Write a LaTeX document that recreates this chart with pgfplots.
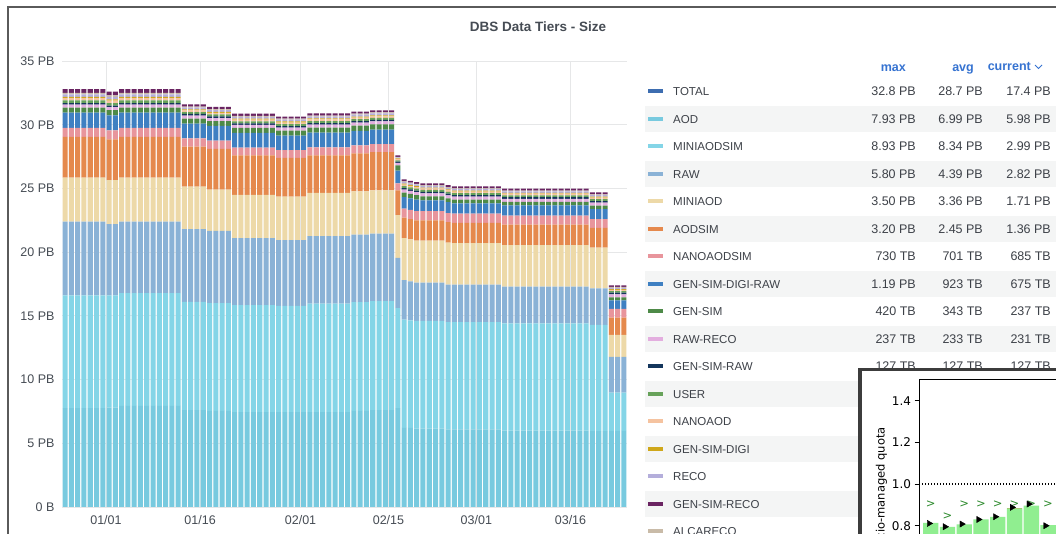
\documentclass[border=0pt]{standalone}
\usepackage{fontspec}
\setmainfont{Liberation Sans}
\newfontfamily\djv{DejaVu Sans}
\usepackage{pgfplots}
\pgfplotsset{compat=1.18}
\usepackage{pgfplotstable}

\definecolor{cAOD}{HTML}{78CADF}
\definecolor{cMSIM}{HTML}{84D5E7}
\definecolor{cRAW}{HTML}{8AB2D6}
\definecolor{cMINI}{HTML}{EDD9A8}
\definecolor{cAODSIM}{HTML}{E5894D}
\definecolor{cNSIM}{HTML}{E8959C}
\definecolor{cGDR}{HTML}{3F80C2}
\definecolor{cGS}{HTML}{4E8A48}
\definecolor{cRR}{HTML}{E3AEDF}
\definecolor{cGSR}{HTML}{14365C}
\definecolor{cUSER}{HTML}{67A25A}
\definecolor{cNANO}{HTML}{F5C3A0}
\definecolor{cGSD}{HTML}{CFA71A}
\definecolor{cRECO}{HTML}{B4AEDB}
\definecolor{cALCA}{HTML}{C9BBA8}
\definecolor{cGSRECO}{HTML}{6A2462}
\definecolor{cTOTAL}{HTML}{3D6DB0}
\definecolor{gridc}{HTML}{E6E7E8}
\definecolor{tickc}{HTML}{464C54}
\definecolor{legc}{HTML}{3D4148}
\definecolor{hdrc}{HTML}{3673D1}
\definecolor{rowc}{HTML}{F4F5F5}
\definecolor{framec}{HTML}{5A5A5A}
\definecolor{insetframe}{HTML}{3C3C3C}
\definecolor{lgreen}{HTML}{90EE90}
\definecolor{capor}{HTML}{D08040}
\definecolor{mgreen}{HTML}{2E8B2E}

\pgfplotstableread{
d aod msim raw mini aodsim nsim gdr gs rr gsr user nano gsd reco alca gsreco
-7 7.75 8.85 5.80 3.45 3.20 0.70 1.19 0.40 0.235 0.127 0.20 0.18 0.10 0.20 0.12 0.30
-6 7.75 8.85 5.80 3.45 3.20 0.70 1.19 0.40 0.235 0.127 0.20 0.18 0.10 0.20 0.12 0.30
-5 7.75 8.85 5.80 3.45 3.20 0.70 1.19 0.40 0.235 0.127 0.20 0.18 0.10 0.20 0.12 0.30
-4 7.75 8.85 5.80 3.45 3.20 0.70 1.19 0.40 0.235 0.127 0.20 0.18 0.10 0.20 0.12 0.30
-3 7.75 8.85 5.80 3.45 3.20 0.70 1.19 0.40 0.235 0.127 0.20 0.18 0.10 0.20 0.12 0.30
-2 7.75 8.85 5.80 3.45 3.20 0.70 1.19 0.40 0.235 0.127 0.20 0.18 0.10 0.20 0.12 0.30
-1 7.75 8.85 5.80 3.45 3.20 0.70 1.19 0.40 0.235 0.127 0.20 0.18 0.10 0.20 0.12 0.30
0 7.80 8.80 5.60 3.45 3.20 0.70 1.19 0.40 0.235 0.127 0.20 0.18 0.10 0.20 0.12 0.30
1 7.80 8.80 5.60 3.45 3.20 0.70 1.19 0.40 0.235 0.127 0.20 0.18 0.10 0.20 0.12 0.30
2 7.93 8.85 5.62 3.45 3.20 0.70 1.19 0.40 0.235 0.127 0.20 0.18 0.10 0.20 0.12 0.30
3 7.93 8.85 5.62 3.45 3.20 0.70 1.19 0.40 0.235 0.127 0.20 0.18 0.10 0.20 0.12 0.30
4 7.93 8.85 5.62 3.45 3.20 0.70 1.19 0.40 0.235 0.127 0.20 0.18 0.10 0.20 0.12 0.30
5 7.93 8.85 5.62 3.45 3.20 0.70 1.19 0.40 0.235 0.127 0.20 0.18 0.10 0.20 0.12 0.30
6 7.93 8.85 5.62 3.45 3.20 0.70 1.19 0.40 0.235 0.127 0.20 0.18 0.10 0.20 0.12 0.30
7 7.93 8.85 5.62 3.45 3.20 0.70 1.19 0.40 0.235 0.127 0.20 0.18 0.10 0.20 0.12 0.30
8 7.93 8.85 5.62 3.45 3.20 0.70 1.19 0.40 0.235 0.127 0.20 0.18 0.10 0.20 0.12 0.30
9 7.93 8.85 5.62 3.45 3.20 0.70 1.19 0.40 0.235 0.127 0.20 0.18 0.10 0.20 0.12 0.30
10 7.93 8.85 5.62 3.45 3.20 0.70 1.19 0.40 0.235 0.127 0.20 0.18 0.10 0.20 0.12 0.30
11 7.93 8.85 5.62 3.45 3.20 0.70 1.19 0.40 0.235 0.127 0.20 0.18 0.10 0.20 0.12 0.30
12 7.60 8.50 5.70 3.34 3.14 0.65 1.15 0.40 0.235 0.127 0.15 0.13 0.08 0.14 0.08 0.17
13 7.60 8.50 5.70 3.34 3.14 0.65 1.15 0.40 0.235 0.127 0.15 0.13 0.08 0.14 0.08 0.17
14 7.60 8.50 5.70 3.34 3.14 0.65 1.15 0.40 0.235 0.127 0.15 0.13 0.08 0.14 0.08 0.17
15 7.60 8.50 5.70 3.34 3.14 0.65 1.15 0.40 0.235 0.127 0.15 0.13 0.08 0.14 0.08 0.17
16 7.55 8.45 5.67 3.24 3.20 0.65 1.15 0.38 0.235 0.127 0.15 0.13 0.08 0.14 0.08 0.17
17 7.55 8.45 5.67 3.24 3.20 0.65 1.15 0.38 0.235 0.127 0.15 0.13 0.08 0.14 0.08 0.17
18 7.55 8.45 5.67 3.24 3.20 0.65 1.15 0.38 0.235 0.127 0.15 0.13 0.08 0.14 0.08 0.17
19 7.55 8.45 5.67 3.24 3.20 0.65 1.15 0.38 0.235 0.127 0.15 0.13 0.08 0.14 0.08 0.17
20 7.45 8.40 5.25 3.40 3.10 0.60 1.15 0.40 0.235 0.127 0.15 0.13 0.08 0.14 0.08 0.17
21 7.45 8.40 5.25 3.40 3.10 0.60 1.15 0.40 0.235 0.127 0.15 0.13 0.08 0.14 0.08 0.17
22 7.45 8.40 5.25 3.40 3.10 0.60 1.15 0.40 0.235 0.127 0.15 0.13 0.08 0.14 0.08 0.17
23 7.45 8.40 5.25 3.40 3.10 0.60 1.15 0.40 0.235 0.127 0.15 0.13 0.08 0.14 0.08 0.17
24 7.45 8.40 5.25 3.40 3.10 0.60 1.15 0.40 0.235 0.127 0.15 0.13 0.08 0.14 0.08 0.17
25 7.45 8.40 5.25 3.40 3.10 0.60 1.15 0.40 0.235 0.127 0.15 0.13 0.08 0.14 0.08 0.17
26 7.45 8.40 5.25 3.40 3.10 0.60 1.15 0.40 0.235 0.127 0.15 0.13 0.08 0.14 0.08 0.17
27 7.45 8.33 5.17 3.40 3.05 0.60 1.15 0.38 0.235 0.127 0.15 0.13 0.08 0.14 0.08 0.17
28 7.45 8.33 5.17 3.40 3.05 0.60 1.15 0.38 0.235 0.127 0.15 0.13 0.08 0.14 0.08 0.17
29 7.45 8.33 5.17 3.40 3.05 0.60 1.15 0.38 0.235 0.127 0.15 0.13 0.08 0.14 0.08 0.17
30 7.45 8.33 5.17 3.40 3.05 0.60 1.15 0.38 0.235 0.127 0.15 0.13 0.08 0.14 0.08 0.17
31 7.45 8.33 5.17 3.40 3.05 0.60 1.15 0.38 0.235 0.127 0.15 0.13 0.08 0.14 0.08 0.17
32 7.45 8.50 5.30 3.40 2.95 0.62 1.15 0.40 0.235 0.127 0.15 0.13 0.08 0.14 0.08 0.17
33 7.45 8.50 5.30 3.40 2.95 0.62 1.15 0.40 0.235 0.127 0.15 0.13 0.08 0.14 0.08 0.17
34 7.45 8.50 5.30 3.40 2.95 0.62 1.15 0.40 0.235 0.127 0.15 0.13 0.08 0.14 0.08 0.17
35 7.45 8.50 5.30 3.40 2.95 0.62 1.15 0.40 0.235 0.127 0.15 0.13 0.08 0.14 0.08 0.17
36 7.45 8.50 5.30 3.40 2.95 0.62 1.15 0.40 0.235 0.127 0.15 0.13 0.08 0.14 0.08 0.17
37 7.45 8.50 5.30 3.40 2.95 0.62 1.15 0.40 0.235 0.127 0.15 0.13 0.08 0.14 0.08 0.17
38 7.45 8.50 5.30 3.40 2.95 0.62 1.15 0.40 0.235 0.127 0.15 0.13 0.08 0.14 0.08 0.17
39 7.55 8.52 5.30 3.40 2.98 0.62 1.15 0.40 0.235 0.127 0.15 0.13 0.08 0.14 0.08 0.17
40 7.55 8.52 5.30 3.40 2.98 0.62 1.15 0.40 0.235 0.127 0.15 0.13 0.08 0.14 0.08 0.17
41 7.55 8.52 5.30 3.40 2.98 0.62 1.15 0.40 0.235 0.127 0.15 0.13 0.08 0.14 0.08 0.17
42 7.60 8.55 5.30 3.40 3.00 0.62 1.15 0.40 0.235 0.127 0.15 0.13 0.08 0.14 0.08 0.17
43 7.60 8.55 5.30 3.40 3.00 0.62 1.15 0.40 0.235 0.127 0.15 0.13 0.08 0.14 0.08 0.17
44 7.60 8.55 5.30 3.40 3.00 0.62 1.15 0.40 0.235 0.127 0.15 0.13 0.08 0.14 0.08 0.17
45 7.60 8.55 5.30 3.40 3.00 0.62 1.15 0.40 0.235 0.127 0.15 0.13 0.08 0.14 0.08 0.17
46 7.75 7.85 3.95 3.35 1.95 0.55 1.00 0.40 0.20 0.10 0.10 0.10 0.05 0.08 0.05 0.12
47 6.20 8.50 3.10 3.30 1.60 0.72 0.90 0.35 0.235 0.127 0.15 0.12 0.07 0.12 0.06 0.15
48 6.20 8.45 3.05 3.30 1.60 0.72 0.90 0.35 0.235 0.127 0.15 0.12 0.07 0.12 0.06 0.15
49 6.15 8.45 3.00 3.30 1.60 0.72 0.90 0.35 0.235 0.127 0.15 0.12 0.07 0.12 0.06 0.15
50 6.15 8.45 3.00 3.30 1.60 0.72 0.85 0.30 0.235 0.127 0.15 0.12 0.07 0.12 0.06 0.15
51 6.15 8.45 3.00 3.30 1.60 0.72 0.85 0.30 0.235 0.127 0.15 0.12 0.07 0.12 0.06 0.15
52 6.15 8.45 3.00 3.30 1.60 0.72 0.85 0.30 0.235 0.127 0.15 0.12 0.07 0.12 0.06 0.15
53 6.15 8.45 3.00 3.30 1.60 0.72 0.85 0.30 0.235 0.127 0.15 0.12 0.07 0.12 0.06 0.15
54 6.10 8.40 2.95 3.30 1.60 0.72 0.85 0.30 0.235 0.127 0.15 0.12 0.07 0.12 0.06 0.15
55 6.10 8.40 2.95 3.25 1.60 0.72 0.80 0.30 0.235 0.127 0.15 0.12 0.07 0.12 0.06 0.15
56 6.10 8.40 2.95 3.25 1.60 0.72 0.80 0.30 0.235 0.127 0.15 0.12 0.07 0.12 0.06 0.15
57 6.10 8.40 2.95 3.25 1.60 0.72 0.80 0.30 0.235 0.127 0.15 0.12 0.07 0.12 0.06 0.15
58 6.10 8.40 2.95 3.25 1.60 0.72 0.80 0.30 0.235 0.127 0.15 0.12 0.07 0.12 0.06 0.15
59 6.10 8.40 2.95 3.25 1.60 0.72 0.80 0.30 0.235 0.127 0.15 0.12 0.07 0.12 0.06 0.15
60 6.10 8.40 2.95 3.25 1.60 0.72 0.80 0.30 0.235 0.127 0.15 0.12 0.07 0.12 0.06 0.15
61 6.10 8.40 2.95 3.25 1.60 0.72 0.80 0.30 0.235 0.127 0.15 0.12 0.07 0.12 0.06 0.15
62 6.10 8.40 2.95 3.25 1.60 0.72 0.80 0.30 0.235 0.127 0.15 0.12 0.07 0.12 0.06 0.15
63 6.00 8.40 2.90 3.25 1.60 0.72 0.80 0.28 0.235 0.127 0.15 0.12 0.07 0.12 0.06 0.15
64 6.00 8.40 2.90 3.25 1.60 0.72 0.80 0.28 0.235 0.127 0.15 0.12 0.07 0.12 0.06 0.15
65 6.00 8.40 2.90 3.25 1.60 0.72 0.80 0.28 0.235 0.127 0.15 0.12 0.07 0.12 0.06 0.15
66 6.00 8.40 2.90 3.25 1.60 0.72 0.80 0.28 0.235 0.127 0.15 0.12 0.07 0.12 0.06 0.15
67 6.00 8.40 2.90 3.25 1.60 0.72 0.80 0.28 0.235 0.127 0.15 0.12 0.07 0.12 0.06 0.15
68 6.00 8.40 2.90 3.25 1.60 0.72 0.80 0.28 0.235 0.127 0.15 0.12 0.07 0.12 0.06 0.15
69 6.00 8.40 2.90 3.25 1.60 0.72 0.80 0.28 0.235 0.127 0.15 0.12 0.07 0.12 0.06 0.15
70 6.00 8.40 2.90 3.25 1.60 0.72 0.80 0.28 0.235 0.127 0.15 0.12 0.07 0.12 0.06 0.15
71 6.00 8.40 2.90 3.25 1.60 0.72 0.80 0.28 0.235 0.127 0.15 0.12 0.07 0.12 0.06 0.15
72 6.00 8.40 2.90 3.25 1.60 0.72 0.80 0.28 0.235 0.127 0.15 0.12 0.07 0.12 0.06 0.15
73 6.00 8.40 2.90 3.25 1.60 0.72 0.80 0.28 0.235 0.127 0.15 0.12 0.07 0.12 0.06 0.15
74 6.00 8.40 2.90 3.25 1.60 0.72 0.80 0.28 0.235 0.127 0.15 0.12 0.07 0.12 0.06 0.15
75 6.00 8.40 2.90 3.25 1.60 0.72 0.80 0.28 0.235 0.127 0.15 0.12 0.07 0.12 0.06 0.15
76 6.00 8.40 2.90 3.25 1.60 0.72 0.80 0.28 0.235 0.127 0.15 0.12 0.07 0.12 0.06 0.15
77 5.95 8.35 2.85 3.20 1.55 0.70 0.78 0.27 0.235 0.127 0.15 0.12 0.07 0.12 0.06 0.15
78 5.95 8.35 2.85 3.20 1.55 0.70 0.78 0.27 0.235 0.127 0.15 0.12 0.07 0.12 0.06 0.15
79 5.95 8.35 2.85 3.20 1.55 0.70 0.78 0.27 0.235 0.127 0.15 0.12 0.07 0.12 0.06 0.15
80 5.98 2.99 2.82 1.71 1.36 0.685 0.675 0.237 0.231 0.127 0.12 0.10 0.06 0.10 0.075 0.13
81 5.98 2.99 2.82 1.71 1.36 0.685 0.675 0.237 0.231 0.127 0.12 0.10 0.06 0.10 0.075 0.13
82 5.98 2.99 2.82 1.71 1.36 0.685 0.675 0.237 0.231 0.127 0.12 0.10 0.06 0.10 0.075 0.13
}\tiers

\tikzset{
  legtext/.style={font=\fontsize{11.5}{13}\selectfont, text=legc, inner sep=0pt, text height=8.3pt, text depth=0pt},
  legval/.style={font=\fontsize{12.5}{14}\selectfont, text=legc, inner sep=0pt, text height=8.8pt, text depth=0pt},
  hdr/.style={font=\bfseries\fontsize{12.5}{14}\selectfont, text=hdrc, inner sep=0pt, text height=9pt, text depth=0pt},
}
\newcommand{\legrow}[6]{%
  \pgfmathsetmacro{\yy}{442.5-27.5*#1}%
  \draw[#2, line width=4pt] (648,\yy) -- (663,\yy);
  \node[legtext, anchor=west] at (673,\yy) {#3};
  \node[legval, anchor=east] at (916,\yy) {#4};
  \node[legval, anchor=east] at (983,\yy) {#5};
  \node[legval, anchor=east] at (1051,\yy) {#6};
}
\newcommand{\gmark}{\djv\fontsize{11.5}{11.5}\selectfont\textcolor{mgreen}{>}}

\begin{document}
\begin{tikzpicture}[x=1pt,y=1pt]
\useasboundingbox (0,0) rectangle (1056,534);
\fill[white] (0,0) rectangle (1056,534);

% main chart
\begin{axis}[
  at={(62pt,27pt)}, anchor=south west, scale only axis,
  width=565pt, height=446pt,
  xmin=-7.5, xmax=82.5, ymin=0, ymax=35,
  ybar stacked, bar width=0.8,
  axis line style={draw=none}, major tick length=0pt,
  xtick={-0.5,14.5,30.5,44.5,58.5,73.5},
  xticklabels={01/01,01/16,02/01,02/15,03/01,03/16},
  ytick={0,5,10,15,20,25,30,35},
  yticklabels={0 B,5 PB,10 PB,15 PB,20 PB,25 PB,30 PB,35 PB},
  xmajorgrids, ymajorgrids, major grid style={gridc, line width=0.8pt},
  tick label style={font=\fontsize{12.5}{14}\selectfont, text=tickc},
  yticklabel style={anchor=east, xshift=-4pt},
  xticklabel style={anchor=north, yshift=-5pt},
]
\addplot[fill=cAOD, draw=none] table[x=d,y=aod]{\tiers};
\addplot[fill=cMSIM, draw=none] table[x=d,y=msim]{\tiers};
\addplot[fill=cRAW, draw=none] table[x=d,y=raw]{\tiers};
\addplot[fill=cMINI, draw=none] table[x=d,y=mini]{\tiers};
\addplot[fill=cAODSIM, draw=none] table[x=d,y=aodsim]{\tiers};
\addplot[fill=cNSIM, draw=none] table[x=d,y=nsim]{\tiers};
\addplot[fill=cGDR, draw=none] table[x=d,y=gdr]{\tiers};
\addplot[fill=cGS, draw=none] table[x=d,y=gs]{\tiers};
\addplot[fill=cRR, draw=none] table[x=d,y=rr]{\tiers};
\addplot[fill=cGSR, draw=none] table[x=d,y=gsr]{\tiers};
\addplot[fill=cUSER, draw=none] table[x=d,y=user]{\tiers};
\addplot[fill=cNANO, draw=none] table[x=d,y=nano]{\tiers};
\addplot[fill=cGSD, draw=none] table[x=d,y=gsd]{\tiers};
\addplot[fill=cRECO, draw=none] table[x=d,y=reco]{\tiers};
\addplot[fill=cALCA, draw=none] table[x=d,y=alca]{\tiers};
\addplot[fill=cGSRECO, draw=none] table[x=d,y=gsreco]{\tiers};
\end{axis}

% title
\node[font=\bfseries\fontsize{13.5}{15}\selectfont, text=tickc] at (538,507) {DBS Data Tiers - Size};

% legend table
\foreach \k in {1,3,...,15}{%
  \pgfmathsetmacro{\yy}{442.5-27.5*\k}%
  \fill[rowc] (645,\yy-13) rectangle (1056,\yy+13);
}
\node[hdr, anchor=east] at (906,467) {max};
\node[hdr, anchor=east] at (974,467) {avg};
\node[hdr, anchor=east] at (1031,468) {current};
\draw[hdrc, line width=0.9pt] (1035,469) -- (1038.5,465.5) -- (1042,469);

\begin{scope}
\clip (0,0) rectangle (1056,534);
\legrow{0}{cTOTAL}{TOTAL}{32.8 PB}{28.7 PB}{17.4 PB}
\legrow{1}{cAOD}{AOD}{7.93 PB}{6.99 PB}{5.98 PB}
\legrow{2}{cMSIM}{MINIAODSIM}{8.93 PB}{8.34 PB}{2.99 PB}
\legrow{3}{cRAW}{RAW}{5.80 PB}{4.39 PB}{2.82 PB}
\legrow{4}{cMINI}{MINIAOD}{3.50 PB}{3.36 PB}{1.71 PB}
\legrow{5}{cAODSIM}{AODSIM}{3.20 PB}{2.45 PB}{1.36 PB}
\legrow{6}{cNSIM}{NANOAODSIM}{730 TB}{701 TB}{685 TB}
\legrow{7}{cGDR}{GEN-SIM-DIGI-RAW}{1.19 PB}{923 TB}{675 TB}
\legrow{8}{cGS}{GEN-SIM}{420 TB}{343 TB}{237 TB}
\legrow{9}{cRR}{RAW-RECO}{237 TB}{233 TB}{231 TB}
\legrow{10}{cGSR}{GEN-SIM-RAW}{127 TB}{127 TB}{127 TB}
\legrow{11}{cUSER}{USER}{}{}{}
\legrow{12}{cNANO}{NANOAOD}{}{}{}
\legrow{13}{cGSD}{GEN-SIM-DIGI}{}{}{}
\legrow{14}{cRECO}{RECO}{}{}{}
\legrow{15}{cGSRECO}{GEN-SIM-RECO}{}{}{}
\legrow{16}{cALCA}{ALCARECO}{}{}{}

% inset panel
\fill[white, draw=insetframe, line width=3.5pt] (860,164.5) rectangle (1080,-30);
\begin{axis}[
  at={(919pt,155pt)}, anchor=north west, scale only axis,
  width=181pt, height=181pt,
  xmin=-0.7, xmax=10.1, ymin=0.6355, ymax=1.504,
  xtick=\empty, ytick={0.8,1.0,1.2,1.4},
  yticklabels={0.8,1.0,1.2,1.4},
  ytick pos=left, tick align=outside, major tick length=4.5pt,
  tick style={black, line width=0.8pt},
  axis line style={black, line width=0.9pt},
  yticklabel style={font=\djv\fontsize{12}{14}\selectfont, text=black},
  clip=true,
]
\addplot[ybar, bar width=0.92, bar shift=0pt, fill=capor, draw=none]
  coordinates {(5,0.887)};
\addplot[ybar, bar width=0.92, bar shift=0pt, fill=lgreen, draw=none]
  coordinates {(0,0.814) (1,0.795) (2,0.807) (3,0.831) (4,0.843) (5,0.883) (6,0.896) (7,0.803) (8,0.82) (9,0.83)};
\addplot[black, line width=1.1pt, dash pattern=on 1.1pt off 1.9pt]
  coordinates {(-0.7,1.0) (10.1,1.0)};
\addplot[only marks, mark=text, text mark={\gmark}]
  coordinates {(0,0.905) (1,0.845) (2,0.905) (3,0.905) (4,0.905) (5,0.905) (6,0.905) (7,0.905)};
\addplot[only marks, mark=triangle*, mark size=3.6pt, mark options={rotate=-90, fill=black, draw=black}]
  coordinates {(-0.1,0.811) (0.85,0.795) (1.85,0.808) (2.85,0.83) (3.85,0.843) (4.85,0.888) (5.85,0.904) (6.85,0.80)};
\end{axis}
\node[rotate=90, anchor=east, font=\djv\fontsize{11.5}{13}\selectfont, text=black, inner sep=0pt] at (881.5,107) {rucio-managed quota};
\end{scope}

% outer frame
\draw[framec, line width=2pt] (8,-5) -- (8,527) -- (1065,527);
\end{tikzpicture}
\end{document}
